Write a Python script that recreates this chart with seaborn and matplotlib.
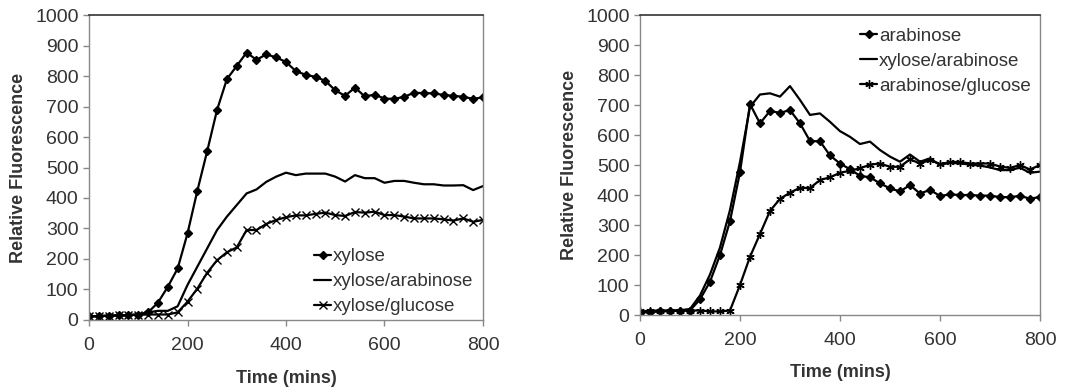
import matplotlib
matplotlib.use("Agg")
import matplotlib.pyplot as plt
import pandas as pd
import seaborn as sns

# time points (mins), one reading every 20 minutes
time = list(range(0, 801, 20))

# left panel
xylose = [12, 12, 14, 15, 16, 18, 25, 57, 109, 169, 284, 424, 554, 689, 790, 833, 877, 853, 871, 861,
          846, 816, 804, 797, 784, 753, 735, 762, 733, 739, 726, 725, 732, 745, 744, 743, 738, 735, 732, 725, 730]
xylose_arabinose_l = [12, 13, 14, 15, 16, 18, 25, 30, 30, 45, 115, 175, 235, 295, 339, 377, 415, 428, 453, 470,
                      483, 475, 480, 480, 480, 470, 454, 475, 465, 465, 450, 456, 456, 450, 445, 445, 441, 441, 442, 426, 439]
xylose_glucose = [12, 13, 14, 15, 16, 17, 18, 18, 18, 25, 60, 103, 155, 196, 222, 238, 295, 295, 315, 328,
                  337, 343, 343, 348, 352, 344, 341, 354, 352, 355, 344, 344, 339, 333, 333, 333, 330, 326, 333, 322, 328]

# right panel
arabinose = [8, 10, 12, 13, 15, 15, 52, 111, 200, 313, 476, 703, 639, 680, 674, 683, 639, 580, 579, 532,
             505, 486, 464, 459, 439, 422, 412, 433, 405, 417, 397, 402, 400, 400, 398, 398, 393, 393, 397, 388, 393]
xylose_arabinose_r = [10, 12, 13, 14, 16, 20, 65, 135, 225, 350, 510, 694, 735, 739, 728, 763, 717, 667, 672, 644,
                      613, 594, 570, 578, 550, 528, 511, 535, 511, 522, 500, 508, 505, 502, 498, 492, 483, 483, 491, 474, 478]
arabinose_glucose = [12, 14, 15, 15, 15, 15, 15, 12, 12, 15, 100, 194, 270, 347, 387, 408, 424, 423, 450, 459,
                     474, 481, 489, 501, 505, 494, 494, 519, 505, 517, 503, 510, 510, 505, 505, 505, 495, 490, 500, 485, 500]

sns.set_style("white")
plt.rcParams["font.family"] = ["Liberation Sans", "DejaVu Sans"]

fig = plt.figure(figsize=(10.74, 3.92), dpi=100)
ax1 = fig.add_axes([0.0829, 0.1837, 0.3668, 0.7780])
ax2 = fig.add_axes([0.5959, 0.1964, 0.3724, 0.7653])

asterisk = (6, 2, 0)


def panel(ax, series, markers, legend_loc, legend_anchor, xpad):
    for (name, vals), mk in zip(series, markers):
        df = pd.DataFrame({"time": time, "value": vals})
        kw = {}
        if mk:
            kw = dict(marker=mk, markersize=4.5 if mk == "D" else 6, markeredgewidth=1.0,
                      markeredgecolor="black", markerfacecolor="black")
        sns.lineplot(data=df, x="time", y="value", color="black", linewidth=1.6,
                     label=name, ax=ax, **kw)
    ax.set_xlim(0, 800)
    ax.set_ylim(0, 1000)
    ax.set_xticks(range(0, 801, 200))
    ax.set_yticks(range(0, 1001, 100))
    ax.tick_params(axis="both", labelsize=14, colors="#888888", labelcolor="#333333",
                   direction="out", length=4, width=1, bottom=True, left=True)
    ax.tick_params(axis="x", pad=8)
    ax.set_xlabel("Time (mins)", fontsize=13, fontweight="bold", color="#333333", labelpad=xpad)
    ax.set_ylabel("Relative Fluorescence", fontsize=13, fontweight="bold", color="#333333", labelpad=6)
    for side in ["left", "bottom", "right"]:
        ax.spines[side].set_color("#888888")
        ax.spines[side].set_linewidth(1.0)
    ax.spines["top"].set_color("#333333")
    ax.spines["top"].set_linewidth(1.2)
    leg = ax.legend(loc=legend_loc, bbox_to_anchor=legend_anchor, frameon=False, fontsize=13.5,
                    handlelength=0.9, handletextpad=0.1, labelspacing=0.42, borderaxespad=0.1)
    for t in leg.get_texts():
        t.set_color("#333333")


panel(ax1, [("xylose", xylose), ("xylose/arabinose", xylose_arabinose_l), ("xylose/glucose", xylose_glucose)],
      ["D", None, "x"], "lower right", (1.0, -0.015), 12)
panel(ax2, [("arabinose", arabinose), ("xylose/arabinose", xylose_arabinose_r), ("arabinose/glucose", arabinose_glucose)],
      ["D", None, asterisk], "upper right", (1.0, 0.99), 11)

fig.savefig("out.png", dpi=100)
